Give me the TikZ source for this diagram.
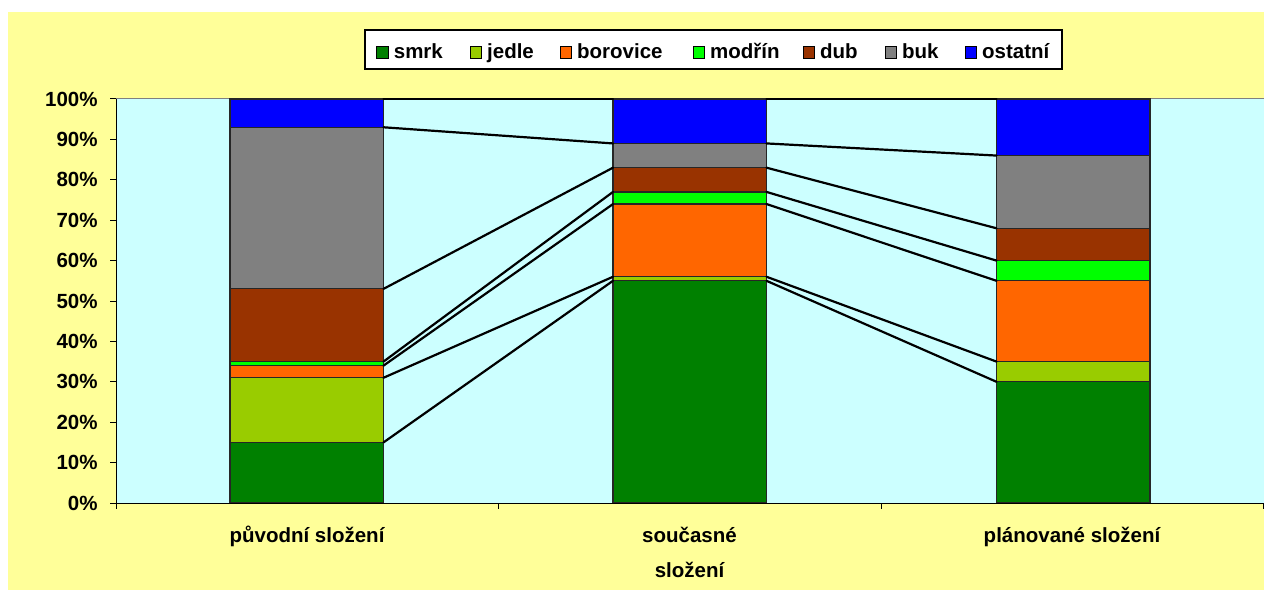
\documentclass[tikz,border=0pt]{standalone}
\usepackage{fontspec}
\setmainfont{Liberation Sans}
\usetikzlibrary{positioning}
\definecolor{chartBg} {HTML}{FFFF99}
\definecolor{plotBg}  {HTML}{CCFFFF}
\definecolor{frameC}  {HTML}{808080}
% tree species, in stacking order
\definecolor{spec1}{HTML}{008000} % smrk
\definecolor{spec2}{HTML}{99CC00} % jedle
\definecolor{spec3}{HTML}{FF6600} % borovice
\definecolor{spec4}{HTML}{00FF00} % modrin
\definecolor{spec5}{HTML}{993300} % dub
\definecolor{spec6}{HTML}{808080} % buk
\definecolor{spec7}{HTML}{0000FF} % ostatni
\tikzset{
  every node/.append style={font=\fontsize{10.25}{12}\selectfont\bfseries},
  barSeg/.style={draw=black!85,line width=0.6pt},
  serLine/.style={draw=black,line width=1.1pt,line cap=round},
  axisLine/.style={draw=black,line width=0.5pt},
  tickLbl/.style={anchor=east,inner sep=0pt},
  catLbl/.style={anchor=base,inner sep=0pt},
  legendBox/.style={draw=black,line width=0.6pt,fill=white,inner sep=0pt,
                    minimum width=348.5pt,minimum height=19.5pt},
  legKey/.style={draw=black,line width=0.5pt,inner sep=0pt,minimum size=5.85pt},
  legLbl/.style={anchor=base west,inner sep=0pt},
}
\begin{document}
\begin{tikzpicture}[x=0.5pt,y=0.5pt]
\useasboundingbox (0,0) rectangle (1264,590);
\fill[chartBg] (8,0) rectangle (1264,578);

% plot area
\fill[plotBg] (116,87) rectangle (1264,491);
\draw[frameC,line width=0.5pt] (116,491) -- (1264,491) -- (1264,87);

% stacked bars, cumulative percentages
\foreach \b/\xl/\vals in {1/230/{15,31,34,35,53,93,100},
                          2/613/{55,56,74,77,83,89,100},
                          3/996.5/{30,35,55,60,68,86,100}} {
  \foreach \top [count=\s, remember=\top as \bot (initially 0)] in \vals {
    \filldraw[barSeg,fill=spec\s]
      (\xl,87+4.04*\bot) rectangle (\xl+153.5,87+4.04*\top);
    \coordinate (b\b l\s) at (\xl,87+4.04*\top);
    \coordinate (b\b r\s) at (\xl+153.5,87+4.04*\top);
  }
}

% series lines between neighbouring bars
\foreach \b in {1,2} {
  \pgfmathtruncatemacro{\nb}{\b+1}
  \foreach \s in {1,...,7}
    \draw[serLine] (b\b r\s) -- (b\nb l\s);
}

% axes
\draw[axisLine] (116,87) -- (116,491);
\draw[axisLine] (116,87) -- (1264,87);
\foreach \p in {0,10,...,100} {
  \draw[axisLine] (110,87+4.04*\p) -- (116,87+4.04*\p);
  \node[tickLbl] (yt\p) at (98,87+4.04*\p) {\p\%};
}
\foreach \xt in {116,498.7,881.3,1263.5}
  \draw[axisLine] (\xt,87) -- (\xt,81);

\node[catLbl] (cat1) at (307,47.5) {původní složení};
\node[catLbl] (cat2) at (689.5,47.5) {současné};
\node[catLbl] (cat2b) at ([yshift=-17.3pt]cat2.base) {složení};
\node[catLbl] (cat3) at (1072,47.5) {plánované složení};

% legend
\node[legendBox] (legend) at (713.5,540.5) {};
\foreach \nm/\xc [count=\i] in {smrk/382.7,jedle/476,borovice/566,modřín/699,
                                 dub/809,buk/891,ostatní/971} {
  \node[legKey,fill=spec\i] (key\i) at (\xc,537.5) {};
  \node[legLbl] (lbl\i) at ([xshift=2.2pt]key\i.south east) {\nm};
}

\end{tikzpicture}
\end{document}
